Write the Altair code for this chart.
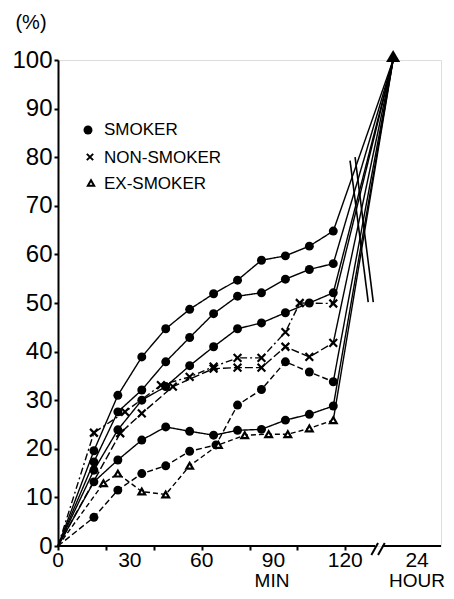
import altair as alt
import pandas as pd

# ---------------- data (minutes, percent) ----------------
curve_names = ["S1", "S2", "S3", "S4", "S5", "E1", "N1", "N2"]
curve_group = ["smoker", "smoker", "smoker", "smoker", "smoker", "ex", "non", "non"]

s1_t = [0, 15, 25, 35, 45, 55, 65, 75, 85, 95, 105, 115]
s1_v = [0, 19.6, 31.0, 38.9, 44.7, 48.7, 51.9, 54.7, 58.8, 59.7, 61.7, 64.8]
s2_t = [0, 15, 25, 35, 45, 55, 65, 75, 85, 95, 105, 115]
s2_v = [0, 17.3, 27.6, 32.1, 37.9, 42.9, 47.8, 51.4, 52.1, 54.9, 56.9, 58.1]
s3_t = [0, 15, 25, 35, 45, 55, 65, 75, 85, 95, 105, 115]
s3_v = [0, 15.6, 23.9, 30.0, 32.8, 37.1, 41.0, 44.7, 45.9, 48.0, 50.0, 52.1]
s4_t = [0, 15, 25, 35, 45, 55, 66, 75, 85, 95, 105, 115]
s4_v = [0, 5.9, 11.5, 14.9, 16.5, 19.5, 20.8, 29.0, 32.2, 37.9, 35.8, 33.8]
s5_t = [0, 15, 25, 35, 45, 55, 65, 75, 85, 95, 105, 115]
s5_v = [0, 13.2, 17.7, 21.8, 24.5, 23.6, 22.8, 23.8, 24.0, 25.9, 27.1, 28.8]
e1_t = [0, 19, 25, 35, 45, 55, 67, 78, 88, 96, 105, 115]
e1_v = [0, 12.9, 14.9, 11.2, 10.6, 16.5, 20.8, 22.8, 23.0, 23.0, 24.2, 25.9]
n1_t = [0, 15, 28, 43, 55, 65, 75, 85, 95, 101, 115]
n1_v = [0, 23.3, 27.6, 33.1, 34.8, 36.9, 38.7, 38.7, 44.0, 50.0, 49.9]
n2_t = [0, 26, 35, 48, 65, 75, 85, 95, 105, 115]
n2_v = [0, 23.2, 27.3, 32.8, 36.5, 36.7, 36.7, 41.0, 38.9, 41.8]

curve_t = [s1_t, s2_t, s3_t, s4_t, s5_t, e1_t, n1_t, n2_t]
curve_v = [s1_v, s2_v, s3_v, s4_v, s5_v, e1_v, n1_v, n2_v]

hour_pos = 140          # where the 24-hour values sit on the x scale
hour_value = 100
x_ticks = [0, 10, 20, 30, 40, 50, 60, 70, 80, 90, 100, 110, 120, 150]
x_label_pos = [0, 30, 60, 90, 120, 150]
x_label_txt = ["0", "30", "60", "90", "120", "24"]
y_ticks = [0, 10, 20, 30, 40, 50, 60, 70, 80, 90, 100]
legend_labels = ["SMOKER", "NON-SMOKER", "EX-SMOKER"]

# break marks across the fan of lines (x1, y1, x2, y2)
brk_x1 = [122.0, 124.1]
brk_y1 = [79.3, 80.0]
brk_x2 = [129.6, 131.7]
brk_y2 = [50.2, 50.2]

# ---------------- tables ----------------
rows = []
tails = []
for name, grp, ts, vs in zip(curve_names, curve_group, curve_t, curve_v):
    for t, v in zip(ts, vs):
        rows.append({"curve": name, "group": grp, "t": t, "v": v})
    tails.append({"curve": name, "t": ts[-1], "v": vs[-1]})
    tails.append({"curve": name, "t": hour_pos, "v": hour_value})
df = pd.DataFrame(rows)
tail_df = pd.DataFrame(tails)
brk_df = pd.DataFrame({"x1": brk_x1, "y1": brk_y1, "x2": brk_x2, "y2": brk_y2})
xlab_df = pd.DataFrame({"t": x_label_pos, "lab": x_label_txt})

W, H = 383, 486
FONT = "Liberation Sans"

xscale = alt.Scale(domain=[0, 160], nice=False)
yscale = alt.Scale(domain=[0, 100], nice=False)

dash_range = [[1, 0], [1, 0], [1, 0], [6, 3], [1, 0], [5, 3], [7, 3, 2, 3], [8, 3]]

base = alt.Chart(df)

lines = base.mark_line(color="black", strokeWidth=1.4).encode(
    x=alt.X("t:Q", scale=xscale,
            axis=alt.Axis(values=x_ticks, title=None, domain=False, labels=False,
                          tickColor="black", tickSize=4, tickWidth=2, grid=False)),
    y=alt.Y("v:Q", scale=yscale,
            axis=alt.Axis(values=y_ticks, title=None, domain=True, domainColor="black",
                          domainWidth=2, labelFont=FONT, labelFontSize=24, labelColor="black",
                          labelFlush=False, labelOverlap=False, labelPadding=2,
                          tickColor="black", tickSize=4, tickWidth=2, grid=False)),
    detail="curve:N",
    strokeDash=alt.StrokeDash("curve:N", scale=alt.Scale(domain=curve_names, range=dash_range),
                              legend=None),
)

tail_lines = alt.Chart(tail_df).mark_line(color="black", strokeWidth=1.4).encode(
    x=alt.X("t:Q", scale=xscale), y=alt.Y("v:Q", scale=yscale), detail="curve:N"
)

pts = base.transform_filter("datum.t > 0")
dots = pts.transform_filter("datum.group == 'smoker'").mark_point(
    shape="circle", filled=True, color="black", size=80, opacity=1
).encode(x="t:Q", y="v:Q")
xmarks = pts.transform_filter("datum.group == 'non'").mark_point(
    shape="M-1,-1L1,1M1,-1L-1,1", filled=False, color="black", strokeWidth=2.2, size=60, opacity=1
).encode(x="t:Q", y="v:Q")
tris = pts.transform_filter("datum.group == 'ex'").mark_point(
    shape="triangle-up", filled=True, fill="white", stroke="black", strokeWidth=2.2, size=45, opacity=1
).encode(x="t:Q", y="v:Q")

arrow = alt.Chart(pd.DataFrame({"t": [hour_pos], "v": [hour_value]})).mark_point(
    shape="triangle-up", filled=True, color="black", size=200, opacity=1, yOffset=-4
).encode(x="t:Q", y="v:Q")

breaks = alt.Chart(brk_df).mark_rule(color="black", strokeWidth=1.6).encode(
    x="x1:Q", y="y1:Q", x2="x2:Q", y2="y2:Q"
)

# x tick labels
xlabels = alt.Chart(xlab_df).mark_text(
    font=FONT, fontSize=21, align="center", baseline="middle", color="black"
).encode(x="t:Q", y=alt.value(H + 15), text="lab:N")

# x axis line with a break
axis_l = alt.Chart(pd.DataFrame({"a": [0], "b": [132.5]})).mark_rule(color="black", strokeWidth=2).encode(
    x="a:Q", x2="b:Q", y=alt.value(H))
axis_r = alt.Chart(pd.DataFrame({"a": [135.5], "b": [160]})).mark_rule(color="black", strokeWidth=2).encode(
    x="a:Q", x2="b:Q", y=alt.value(H))
slashes = alt.Chart(pd.DataFrame({"a": [130.9, 133.7], "b": [133.7, 136.5]})).mark_rule(
    color="black", strokeWidth=2).encode(
    x="a:Q", x2="b:Q", y=alt.value(H + 9), y2=alt.value(H - 3))

# legend
leg_dot = alt.Chart(pd.DataFrame({"k": [0]})).mark_point(
    shape="circle", filled=True, color="black", size=80, opacity=1).encode(
    x=alt.value(30), y=alt.value(70))
leg_x = alt.Chart(pd.DataFrame({"k": [0]})).mark_point(
    shape="M-1,-1L1,1M1,-1L-1,1", filled=False, color="black", strokeWidth=2, size=40, opacity=1).encode(
    x=alt.value(32), y=alt.value(97))
leg_tri = alt.Chart(pd.DataFrame({"k": [0]})).mark_point(
    shape="triangle-up", filled=True, fill="white", stroke="black", strokeWidth=2, size=40, opacity=1).encode(
    x=alt.value(33), y=alt.value(123))
leg_txt = []
for lab, yy in zip(legend_labels, [70, 98, 124]):
    leg_txt.append(alt.Chart(pd.DataFrame({"k": [0]})).mark_text(
        text=lab, font=FONT, fontSize=17, align="left", baseline="middle", color="black").encode(
        x=alt.value(46), y=alt.value(yy)))

pct = alt.Chart(pd.DataFrame({"k": [0]})).mark_text(
    text="(%)", font=FONT, fontSize=20, align="center", baseline="middle", color="black").encode(
    x=alt.value(-27), y=alt.value(-37))
t_min = alt.Chart(pd.DataFrame({"k": [0]})).mark_text(
    text="MIN", font=FONT, fontSize=19, align="center", baseline="middle", color="black").encode(
    x=alt.value(214), y=alt.value(H + 35))
t_hour = alt.Chart(pd.DataFrame({"k": [0]})).mark_text(
    text="HOUR", font=FONT, fontSize=19, align="right", baseline="middle", color="black").encode(
    x=alt.value(387), y=alt.value(H + 35))

chart = alt.layer(
    lines, tail_lines, breaks, dots, xmarks, tris, arrow,
    axis_l, axis_r, slashes, xlabels,
    leg_dot, leg_x, leg_tri, *leg_txt, pct, t_min, t_hour
).properties(
    width=W, height=H, autosize="none",
    padding={"left": 50, "top": 52, "right": 5, "bottom": 45}
).configure_view(stroke=None).configure(background="white")

chart.save("out.html", embed_options={"renderer": "svg", "actions": False})
